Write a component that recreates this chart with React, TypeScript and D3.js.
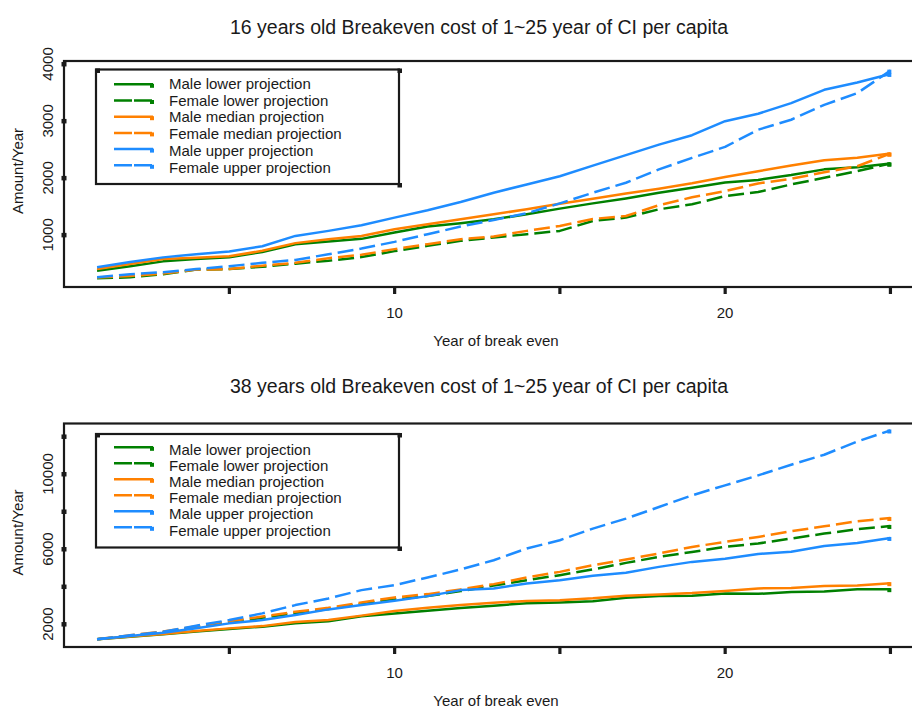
import React from "react";
import * as d3 from "d3";

// ---------- data ----------
const years = [1, 2, 3, 4, 5, 6, 7, 8, 9, 10, 11, 12, 13, 14, 15, 16, 17, 18, 19, 20, 21, 22, 23, 24, 25];

const seriesNames = [
  "Male lower projection",
  "Female lower projection",
  "Male median projection",
  "Female median projection",
  "Male upper projection",
  "Female upper projection",
];

// 16 years old
const maleLower16 = [370, 450, 535, 575, 605, 700, 835, 885, 930, 1040, 1146, 1204, 1274, 1361, 1461, 1553, 1640, 1740, 1828, 1920, 1965, 2050, 2150, 2185, 2252];
const femaleLower16 = [237, 255, 310, 390, 400, 440, 495, 545, 610, 715, 807, 895, 954, 1012, 1070, 1244, 1303, 1449, 1536, 1681, 1751, 1885, 2002, 2118, 2252];
const maleMedian16 = [400, 490, 575, 600, 625, 720, 855, 922, 980, 1099, 1186, 1274, 1361, 1449, 1548, 1635, 1728, 1810, 1905, 2015, 2118, 2217, 2310, 2352, 2427];
const femaleMedian16 = [250, 280, 320, 390, 400, 460, 510, 590, 650, 750, 837, 924, 971, 1070, 1157, 1280, 1332, 1520, 1660, 1768, 1903, 1985, 2100, 2205, 2427];
const maleUpper16 = [430, 525, 605, 660, 709, 800, 982, 1070, 1169, 1303, 1431, 1576, 1740, 1885, 2030, 2215, 2400, 2584, 2750, 2995, 3126, 3313, 3546, 3674, 3825];
const femaleUpper16 = [255, 310, 345, 400, 450, 510, 560, 660, 760, 877, 1012, 1146, 1262, 1379, 1553, 1740, 1915, 2150, 2352, 2544, 2846, 3021, 3283, 3488, 3883];

// 38 years old
const maleLower38 = [1190, 1320, 1450, 1600, 1740, 1860, 2040, 2150, 2420, 2560, 2710, 2850, 2980, 3110, 3150, 3210, 3400, 3500, 3510, 3630, 3610, 3710, 3730, 3860, 3860];
const femaleLower38 = [1190, 1370, 1560, 1830, 2080, 2330, 2580, 2800, 3080, 3314, 3489, 3755, 4050, 4340, 4606, 4910, 5261, 5580, 5846, 6112, 6293, 6559, 6824, 7053, 7229];
const maleMedian38 = [1190, 1330, 1470, 1630, 1770, 1890, 2110, 2220, 2450, 2700, 2870, 3020, 3140, 3230, 3270, 3370, 3510, 3580, 3650, 3760, 3900, 3920, 4030, 4050, 4180];
const femaleMedian38 = [1190, 1400, 1600, 1880, 2150, 2400, 2654, 2867, 3150, 3420, 3596, 3845, 4128, 4484, 4782, 5138, 5441, 5761, 6112, 6378, 6644, 6947, 7213, 7479, 7654];
const maleUpper38 = [1190, 1362, 1537, 1771, 2037, 2213, 2479, 2782, 3011, 3239, 3489, 3809, 3899, 4165, 4340, 4580, 4740, 5048, 5314, 5480, 5740, 5860, 6160, 6320, 6590];
const femaleUpper38 = [1190, 1399, 1590, 1910, 2213, 2569, 3011, 3367, 3809, 4074, 4484, 4910, 5404, 6027, 6468, 7090, 7622, 8240, 8862, 9394, 9926, 10495, 11027, 11734, 12319];

const xTicks = [5, 10, 15, 20, 25];
const xTickLabels = ["", "10", "", "20", ""];
const yTicks16 = [1000, 2000, 3000, 4000];
const yTickLabels16 = ["1000", "2000", "3000", "4000"];
const yTicks38 = [2000, 4000, 6000, 8000, 10000, 12000];
const yTickLabels38 = ["2000", "", "6000", "", "10000", ""];

const titles = [
  "16 years old Breakeven cost of 1~25 year of CI per capita",
  "38 years old Breakeven cost of 1~25 year of CI per capita",
];

// ---------- styles ----------
const seriesColors = ["#008000", "#008000", "#ff8000", "#ff8000", "#1e8cff", "#1e8cff"];
const seriesDashed = [false, true, false, true, false, true];
const FONT = "'Liberation Sans', Arial, Helvetica, sans-serif";
const INK = "#1a1a1a";

type PanelProps = {
  title: string;
  data: number[][];
  yDomain: [number, number];
  yTicks: number[];
  yTickLabels: string[];
  top: number;
  bottom: number;
  titleY: number;
  xTickLabelY: number;
  xLabelY: number;
  yLabelY: number;
  legend: { top: number; bottom: number; line0: number; lineStep: number; text0: number; textStep: number };
};

function Panel(p: PanelProps) {
  const left = 64;
  const right = 930;
  const x = d3.scaleLinear().domain([0, 26.2]).range([left, right]);
  const y = d3.scaleLinear().domain(p.yDomain).range([p.bottom, p.top]);
  const line = d3
    .line<number>()
    .x((_, i) => x(years[i]))
    .y((d) => y(d));

  return (
    <g>
      <text x={479} y={p.titleY} textAnchor="middle" fontSize={19.5} fill={INK} fontFamily={FONT}>
        {p.title}
      </text>
      {/* series */}
      {p.data.map((vals, k) => (
        <g key={k}>
          <path
            d={line(vals) || ""}
            fill="none"
            stroke={seriesColors[k]}
            strokeWidth={2.5}
            strokeDasharray={seriesDashed[k] ? "16,6" : undefined}
            strokeLinejoin="round"
          />
          <rect
            x={x(years[years.length - 1]) - 3}
            y={y(vals[vals.length - 1]) - 1}
            width={4}
            height={4}
            fill={seriesColors[k]}
          />
        </g>
      ))}
      {/* frame */}
      <rect x={left} y={p.top} width={right + 40 - left} height={p.bottom - p.top} fill="none" stroke={INK} strokeWidth={2.2} />
      {/* x ticks */}
      {xTicks.map((t, i) => (
        <g key={"xt" + i}>
          <rect x={x(t) - 1.5} y={p.bottom} width={3.2} height={7} fill={INK} />
          {xTickLabels[i] && (
            <text x={x(t)} y={p.xTickLabelY} textAnchor="middle" fontSize={15} fill={INK} fontFamily={FONT}>
              {xTickLabels[i]}
            </text>
          )}
        </g>
      ))}
      {/* y ticks */}
      {p.yTicks.map((t, i) => (
        <g key={"yt" + i}>
          <rect x={left - 2.5} y={y(t) - 2} width={5} height={4.5} fill={INK} />
          {p.yTickLabels[i] && (
            <text
              transform={`translate(53,${y(t)}) rotate(-90)`}
              textAnchor="middle"
              fontSize={15}
              fill={INK}
              fontFamily={FONT}
            >
              {p.yTickLabels[i]}
            </text>
          )}
        </g>
      ))}
      <text
        transform={`translate(23,${p.yLabelY}) rotate(-90)`}
        textAnchor="middle"
        fontSize={15}
        fill={INK}
        fontFamily={FONT}
      >
        Amount/Year
      </text>
      <text x={496} y={p.xLabelY} textAnchor="middle" fontSize={15} fill={INK} fontFamily={FONT}>
        Year of break even
      </text>
      {/* legend */}
      <rect
        x={96}
        y={p.legend.top}
        width={303}
        height={p.legend.bottom - p.legend.top}
        fill="#fff"
        stroke={INK}
        strokeWidth={2.2}
      />
      <rect x={95.5} y={p.legend.top - 1} width={4.5} height={4.5} fill={INK} />
      <rect x={397.5} y={p.legend.top - 1} width={4.5} height={4.5} fill={INK} />
      <rect x={397.5} y={p.legend.bottom - 1} width={4.5} height={4.5} fill={INK} />
      {seriesNames.map((name, k) => {
        const ly = p.legend.line0 + k * p.legend.lineStep;
        const ty = p.legend.text0 + k * p.legend.textStep;
        return (
          <g key={"lg" + k}>
            <line
              x1={114}
              x2={153}
              y1={ly}
              y2={ly}
              stroke={seriesColors[k]}
              strokeWidth={2.5}
              strokeDasharray={seriesDashed[k] ? "18,2" : undefined}
            />
            <rect x={150} y={ly - 0.5} width={4} height={4} fill={seriesColors[k]} />
            <text x={169} y={ty} fontSize={15} fill={INK} fontFamily={FONT}>
              {name}
            </text>
          </g>
        );
      })}
    </g>
  );
}

export default function App() {
  return (
    <svg
      width={912}
      height={708}
      viewBox="0 0 912 708"
      style={{ position: "absolute", left: 0, top: 0, display: "block", background: "#fff" }}
    >
      <rect x={0} y={0} width={912} height={708} fill="#fff" />
      <Panel
        title={titles[0]}
        data={[maleLower16, femaleLower16, maleMedian16, femaleMedian16, maleUpper16, femaleUpper16]}
        yDomain={[85, 4052]}
        yTicks={yTicks16}
        yTickLabels={yTickLabels16}
        top={61}
        bottom={287}
        titleY={34}
        xTickLabelY={318}
        xLabelY={346}
        yLabelY={171}
        legend={{ top: 69.5, bottom: 184, line0: 84.3, lineStep: 16.2, text0: 89, textStep: 16.7 }}
      />
      <Panel
        title={titles[1]}
        data={[maleLower38, femaleLower38, maleMedian38, femaleMedian38, maleUpper38, femaleUpper38]}
        yDomain={[777, 12691]}
        yTicks={yTicks38}
        yTickLabels={yTickLabels38}
        top={423.5}
        bottom={647}
        titleY={393}
        xTickLabelY={678}
        xLabelY={706}
        yLabelY={532.5}
        legend={{ top: 434, bottom: 547.5, line0: 447.3, lineStep: 16, text0: 455, textStep: 16.1 }}
      />
    </svg>
  );
}
